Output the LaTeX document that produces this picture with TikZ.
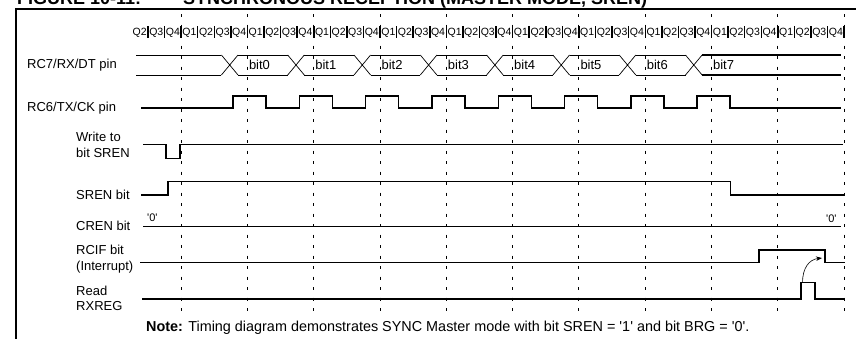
\documentclass[tikz,border=0pt]{standalone}
\usepackage{fontspec}
\setmainfont{Liberation Sans}
\usetikzlibrary{arrows.meta}
\begin{document}
\begin{tikzpicture}[x=1pt,y=-1pt,
  sig/.style={line width=1.4pt, line join=miter},
  bus/.style={line width=0.7pt},
  thickbus/.style={line width=1.4pt},
  gridline/.style={line width=0.8pt, dash pattern=on 3pt off 7.5pt},
  lbl/.style={anchor=base west, inner sep=0pt, font=\fontsize{13}{15}\selectfont},
  qlbl/.style={anchor=base, inner sep=0pt, font=\fontsize{10.5}{12}\selectfont},
  zlbl/.style={anchor=base west, inner sep=0pt, font=\fontsize{11}{13}\selectfont},
  ttl/.style={anchor=base west, inner sep=0pt, font=\fontsize{18}{20}\selectfont\bfseries}]
\useasboundingbox (0,0) rectangle (856,338);
\fill[white] (0,0) rectangle (856,338);
% title (cut off at the top, as in the reference)
\node[ttl] (t1) at (17,4) {FIGURE 10-11:};
\node[ttl] (t2) at (183,4) {SYNCHRONOUS RECEPTION (MASTER MODE, SREN)};
% frame
\draw[line width=1.6pt] (16,360) -- (16,9) -- (880,9);
% grid lines
\foreach \k in {0,...,10} \draw[gridline] ({181+66.3*\k},14) -- ({181+66.3*\k},316);
% Q phases
\foreach \j in {0,...,42} {
  \pgfmathsetmacro\xx{148+16.575*\j}
  \pgfmathtruncatemacro\qq{mod(\j+1,4)+1}
  \draw[line width=1.5pt] (\xx,26) -- (\xx,38);
  \node[qlbl] (q\j) at (\xx-8.29,35.8) {Q\qq};
}
% labels
\node[lbl] (l1) at (27,68.5) {RC7/RX/DT pin};
\node[lbl] (l2) at (27,111.5) {RC6/TX/CK pin};
\node[lbl] (l3) at (76,141) {Write to};
\node[lbl] (l3b) at (76,157.5) {bit SREN};
\node[lbl] (l4) at (76,199.5) {SREN bit};
\node[lbl] (l5) at (76,230) {CREN bit};
\node[lbl] (l6) at (76,254.5) {RCIF bit};
\node[lbl] (l6b) at (76,270.5) {(Interrupt)};
\node[lbl] (l7) at (76,295.5) {Read};
\node[lbl] (l7b) at (76,310.5) {RXREG};
% data bus
\draw[bus] (136,55) -- (221.4,55) (136,75) -- (221.4,75);
\foreach \k in {0,...,7} {
  \pgfmathsetmacro\cc{229.7+66.3*\k}
  \draw[bus] (\cc-8.3,55) -- (\cc+8.3,75) (\cc-8.3,75) -- (\cc+8.3,55);
  \node[lbl] (b\k) at (\cc+19.1,69.5) {bit\k};
}
\foreach \k in {0,...,6} {
  \pgfmathsetmacro\cc{229.7+66.3*\k}
  \draw[bus] (\cc+8.3,55) -- (\cc+58,55) (\cc+8.3,75) -- (\cc+58,75);
}
\draw[thickbus] (702,55) -- (841,55) (702,75) -- (841,75);
% clock
\draw[sig] (141,108) foreach \k in {0,...,7} { -- ({233+66.3*\k},108) -- ({233+66.3*\k},96) -- ({266+66.3*\k},96) -- ({266+66.3*\k},108) } -- (841,108);
% write to SREN
\draw[sig] (143,144.7) -- (166,144.7) -- (166,158.3) -- (180,158.3) -- (180,144.7) -- (843,144.7);
% SREN bit
\draw[sig] (141,195) -- (168,195) -- (168,181.3) -- (730.7,181.3) -- (730.7,195) -- (844,195);
% CREN bit
\draw[sig] (143,226.3) -- (841,226.3);
\node[zlbl] (z1) at (147,221) {\textquotesingle0\textquotesingle};
\node[zlbl] (z2) at (826,222) {\textquotesingle0\textquotesingle};
% RCIF
\draw[sig] (140,262.7) -- (759,262.7) -- (759,250) -- (825,250) -- (825,262.7) -- (845,262.7);
% Read RXREG
\draw[sig] (142,299) -- (801,299) -- (801,282.7) -- (815,282.7) -- (815,299) -- (845,299);
% arrow
\coordinate (a1) at (802.5,282.7);
\coordinate (a2) at (822,258);
\draw[line width=0.6pt, -{Stealth[length=6pt,width=4.5pt]}] (a1) .. controls (802.5,268) and (809,259.5) .. (a2);
% note
\node[lbl, font=\fontsize{14.4}{16}\selectfont] (note) at (146,331.5) {\textbf{Note:} Timing diagram demonstrates SYNC Master mode with bit SREN = \textquotesingle1\textquotesingle{} and bit BRG = \textquotesingle0\textquotesingle.};
\end{tikzpicture}
\end{document}
